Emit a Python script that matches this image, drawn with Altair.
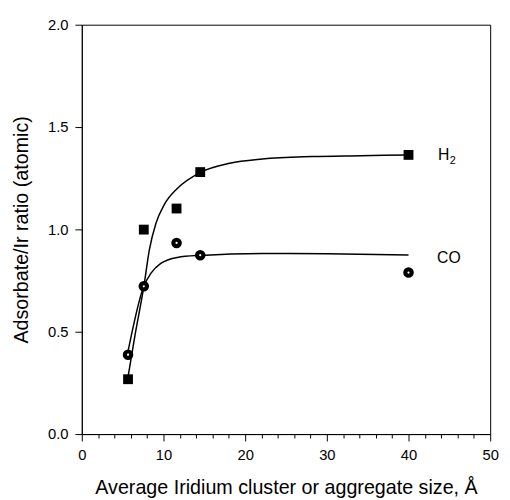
import altair as alt
import pandas as pd

# measured points
h2_x = [5.66, 7.59, 11.6, 14.5, 40.0]
h2_y = [0.268, 0.999, 1.102, 1.28, 1.364]
co_x = [5.66, 7.59, 11.6, 14.5, 40.0]
co_y = [0.388, 0.722, 0.934, 0.874, 0.789]

# fitted curves
h2_curve_x = [5.66, 6.5, 7.59, 8.27, 9.08, 10.08, 11.69, 14.5, 18.1, 22.1, 28.2, 34.2, 40.0]
h2_curve_y = [0.28, 0.48, 0.72, 0.90, 1.03, 1.12, 1.20, 1.278, 1.323, 1.344, 1.356, 1.360, 1.364]
co_curve_x = [5.58, 7.59, 8.47, 9.67, 11.69, 14.5, 22.1, 30.0, 40.0]
co_curve_y = [0.388, 0.722, 0.786, 0.834, 0.863, 0.873, 0.882, 0.881, 0.875]

# series labels
lab_text = ["H", "CO"]
lab_x = [43.6, 43.5]
lab_y = [1.365, 0.86]
sub_text = ["2"]
sub_x = [45.05]
sub_y = [1.335]

FONT = "Liberation Sans"

pts_h2 = pd.DataFrame({"x": h2_x, "y": h2_y})
pts_co = pd.DataFrame({"x": co_x, "y": co_y})
cur_h2 = pd.DataFrame({"x": h2_curve_x, "y": h2_curve_y})
cur_co = pd.DataFrame({"x": co_curve_x, "y": co_curve_y})
labs = pd.DataFrame({"x": lab_x, "y": lab_y, "t": lab_text})
subs = pd.DataFrame({"x": sub_x, "y": sub_y, "t": sub_text})

xs = alt.Scale(domain=[0, 50], nice=False, zero=False)
ys = alt.Scale(domain=[0, 2.0], nice=False, zero=False)

x_axis = alt.Axis(
    title="Average Iridium cluster or aggregate size, Å",
    values=list(range(0, 51, 2)),
    labelExpr="datum.value % 10 === 0 ? datum.label : ''",
    tickSize=alt.condition("datum.value % 10 === 0", alt.value(7), alt.value(4)),
    labelPadding=7,
    titlePadding=15,
    grid=False,
    labelOverlap=False,
    labelBound=False,
    labelFlush=False,
)
y_axis = alt.Axis(
    title="Adsorbate/Ir ratio (atomic)",
    values=[0, 0.5, 1.0, 1.5, 2.0],
    format=".1f",
    tickSize=7,
    labelPadding=7,
    titlePadding=16,
    grid=False,
)

enc_x = alt.X("x:Q", scale=xs, axis=x_axis)
enc_y = alt.Y("y:Q", scale=ys, axis=y_axis)

l_h2 = alt.Chart(cur_h2).mark_line(color="black", strokeWidth=1.5, interpolate="monotone")
l_co = alt.Chart(cur_co).mark_line(color="black", strokeWidth=1.5, interpolate="monotone")

sq = alt.Chart(pts_h2).mark_point(shape="square", filled=True, color="black", size=100, opacity=1)
ci = alt.Chart(pts_co).mark_point(shape="circle", filled=True, color="black", size=115, opacity=1)
dot = alt.Chart(pts_co).mark_point(shape="circle", filled=True, color="white", size=5, opacity=1)

txt = alt.Chart(labs).mark_text(font=FONT, fontSize=16, color="black", align="left", baseline="middle").encode(text="t:N")
sub = alt.Chart(subs).mark_text(font=FONT, fontSize=11, color="black", align="left", baseline="middle").encode(text="t:N")

chart = alt.layer(l_h2, l_co, sq, ci, dot, txt, sub).encode(
    x=enc_x, y=enc_y
).properties(
    width=415,
    height=416,
    background="white",
    autosize=alt.AutoSizeParams(type="none"),
    padding={"left": 75, "top": 13, "right": 12, "bottom": 63},
).configure_view(
    stroke="black", strokeWidth=1
).configure_axis(
    labelFont=FONT, titleFont=FONT, labelFontSize=15, titleFontSize=20,
    titleFontWeight="normal", labelColor="black", titleColor="black",
    domainColor="black", tickColor="black", domainWidth=1, tickWidth=1,
    labelOverlap=False,
)

chart.save("out.html", embed_options={"renderer": "svg", "actions": False})
